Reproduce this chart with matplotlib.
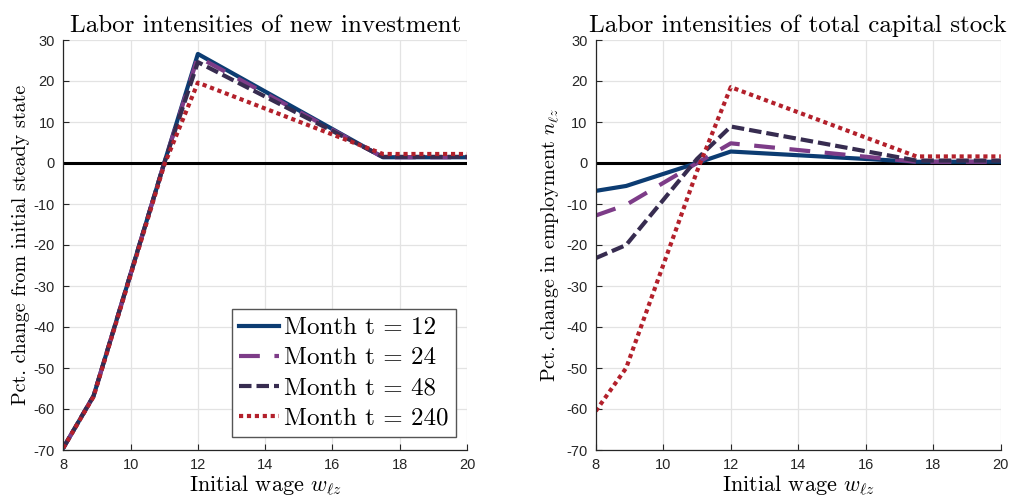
import matplotlib.pyplot as plt

plt.rcParams['mathtext.fontset'] = 'cm'
plt.rcParams['axes.unicode_minus'] = False

# Valores
wage = [8, 8.9, 11, 12, 17.5, 20]

inv_12 = [-69.5, -56.8, 0.0, 26.6, 1.4, 1.4]
inv_24 = [-69.5, -56.8, 0.0, 25.9, 1.4, 1.4]
inv_48 = [-69.5, -56.8, 0.0, 24.6, 1.5, 1.5]
inv_240 = [-69.5, -57.0, -0.5, 19.6, 2.2, 2.2]

cap_12 = [-6.8, -5.6, 0.0, 2.8, 0.3, 0.3]
cap_24 = [-12.8, -10.2, 0.0, 4.8, 0.3, 0.3]
cap_48 = [-23.2, -20.0, 1.0, 8.9, 0.6, 0.6]
cap_240 = [-60.5, -50.0, -2.0, 18.5, 1.6, 1.6]

labels = ['Month t = 12', 'Month t = 24', 'Month t = 48', 'Month t = 240']
colores = ['#0c3c72', '#7d3c88', '#372c50', '#b3202b']
estilos = ['-', (0, (5, 3.5)), (0, (3, 1.2)), (0, (1, 0.9))]

xticks = [8, 10, 12, 14, 16, 18, 20]
yticks = list(range(-70, 31, 10))

fig = plt.figure(figsize=(10.11, 5.0), dpi=100)
ax1 = fig.add_axes([0.0626, 0.10, 0.3994, 0.82])
ax2 = fig.add_axes([0.5893, 0.10, 0.4006, 0.82])

series = [
    (ax1, [inv_12, inv_24, inv_48, inv_240], 'Labor intensities of new investment',
     'Pct. change from initial steady state'),
    (ax2, [cap_12, cap_24, cap_48, cap_240], 'Labor intensities of total capital stock',
     r'Pct. change in employment $n_{\ell z}$'),
]

for ax, datos, titulo, ylab in series:
    ax.axhline(0, color='black', lw=2.2, zorder=1)
    for y, lab, c, ls in zip(datos, labels, colores, estilos):
        ax.plot(wage, y, color=c, ls=ls, lw=3, label=lab, zorder=2)
    ax.set_xlim(8, 20)
    ax.set_ylim(-70, 30)
    ax.set_xticks(xticks)
    ax.set_yticks(yticks)
    ax.grid(True, color='#e3e3e3', lw=0.9)
    ax.set_axisbelow(True)
    for s in ['top', 'right']:
        ax.spines[s].set_visible(False)
    for s in ['left', 'bottom']:
        ax.spines[s].set_color('#262626')
        ax.spines[s].set_linewidth(0.9)
    ax.tick_params(direction='in', length=4, width=0.8, colors='#262626',
                   labelsize=10.5, pad=6)
    for t in ax.get_xticklabels() + ax.get_yticklabels():
        t.set_family('Liberation Sans')
    ax.set_title(titulo, family='cmr10', fontsize=18, pad=6)
    ax.set_xlabel(r'Initial wage $w_{\ell z}$', family='cmr10', fontsize=16, labelpad=1)
    ax.set_ylabel(ylab, family='cmr10', fontsize=14.5, labelpad=3)

leg = ax1.legend(loc='lower right', bbox_to_anchor=(0.985, 0.02),
                 prop={'family': 'cmr10', 'size': 18}, handlelength=1.6,
                 handletextpad=0.2, borderpad=0.3, labelspacing=0.3,
                 fancybox=False, framealpha=1, borderaxespad=0.2)
leg.get_frame().set_edgecolor('#555555')
leg.get_frame().set_linewidth(1.0)

fig.savefig('out.png', dpi=100)
